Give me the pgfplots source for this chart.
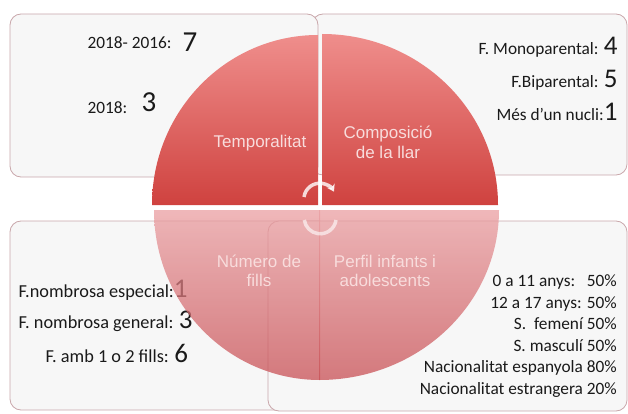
\documentclass[border=0pt]{standalone}
\usepackage{fontspec}
\setmainfont{Carlito}
\newfontfamily\labelfont{Liberation Sans}
\usepackage{pgfplots}
\pgfplotsset{compat=1.18}
\usetikzlibrary{arrows.meta,shadings}
\definecolor{boxfill}{HTML}{F7F7F7}
\definecolor{boxline}{HTML}{C9A7AB}
\definecolor{qtoptop}{HTML}{EF8E8C}
\definecolor{qtopbot}{HTML}{CF423F}
\definecolor{qbottop}{HTML}{EA9FA2}
\definecolor{qbotbot}{HTML}{C84F54}
\definecolor{qlabel}{HTML}{F8DCDC}
\definecolor{txt}{HTML}{1A1A1A}

\begin{document}
\begin{tikzpicture}
\begin{axis}[
  name=ax,
  anchor=south west, at={(0,0)},
  scale only axis,
  width=628pt, height=414pt,
  xmin=0, xmax=628, ymin=0, ymax=414,
  y dir=reverse,
  hide axis,
]
% boxes (pixel coordinates, y down)
\tikzset{box/.style={fill=boxfill, draw=boxline, line width=0.8pt, rounded corners=11pt},
  small/.style={font=\fontsize{17.3}{18}\selectfont, text=txt},
  smallb/.style={font=\fontsize{18.3}{19}\selectfont, text=txt}}
\draw[box] (axis cs:312,14) rectangle (axis cs:627,175);
\draw[box] (axis cs:10,14) rectangle (axis cs:318,177);
\draw[box] (axis cs:10,221) rectangle (axis cs:330,410);
\draw[box] (axis cs:268,221) rectangle (axis cs:627,411);

% text inside boxes
\node[anchor=west, small] at (axis cs:84,43) {2018- 2016:};
\node[anchor=west, font=\fontsize{29}{30}\selectfont, text=txt] at (axis cs:179,42) {7};
\node[anchor=west, small] at (axis cs:84,108) {2018:};
\node[anchor=west, font=\fontsize{29}{30}\selectfont, text=txt] at (axis cs:138,102) {3};

\node[anchor=east, small] at (axis cs:621,47) {F. Monoparental: {\fontsize{27}{28}\selectfont 4}};
\node[anchor=east, small] at (axis cs:621,80) {F.Biparental: {\fontsize{27}{28}\selectfont 5}};
\node[anchor=east, small] at (axis cs:621,112) {Més d’un nucli:{\fontsize{27}{28}\selectfont 1}};

\node[anchor=west, smallb] at (axis cs:15,290) {F.nombrosa especial:{\fontsize{27}{28}\selectfont 1}};
\node[anchor=west, smallb] at (axis cs:15,321) {F. nombrosa general: {\fontsize{27}{28}\selectfont 3}};
\node[anchor=west, smallb] at (axis cs:42,353) {F. amb 1 o 2 fills: {\fontsize{27}{28}\selectfont 6}};

\node[anchor=east, small, align=right, inner sep=0pt]
  at (axis cs:617,336) {0 a 11 anys:\ \ \ 50\%\\[3.6pt] 12 a 17 anys: 50\%\\[3.6pt] S.\ \ femení 50\%\\[3.6pt] S. masculí 50\%\\[3.6pt] Nacionalitat espanyola 80\%\\[3.6pt] Nacionalitat estrangera 20\%};

% top quadrants
\shade[top color=qtoptop, bottom color=qtopbot]
  (axis cs:318,205) -- (axis cs:152,205) arc[start angle=180, end angle=90, x radius=166pt, y radius=170pt] -- cycle;
\shade[top color=qtoptop, bottom color=qtopbot]
  (axis cs:322,205) -- (axis cs:322,34) arc[start angle=90, end angle=0, x radius=176pt, y radius=171pt] -- cycle;

% bottom quadrants (semi-transparent)
\shade[top color=qbottop, bottom color=qbotbot, fill opacity=0.75]
  (axis cs:320,210) -- (axis cs:154,210) arc[start angle=180, end angle=270, x radius=166pt, y radius=170pt] -- cycle;
\shade[top color=qbottop, bottom color=qbotbot, fill opacity=0.75]
  (axis cs:319,210) -- (axis cs:319,380) arc[start angle=270, end angle=360, x radius=180pt, y radius=170pt] -- cycle;

% centre arrows
\draw[white, opacity=0.8, line width=3.5pt, -{Stealth[length=7pt,width=9pt]}]
  (axis cs:304,197) arc[start angle=172, end angle=28, radius=16pt];
\draw[white, opacity=0.6, line width=3.5pt]
  (axis cs:336,220) arc[start angle=-8, end angle=-172, radius=16pt];

% quadrant labels
\node[font=\labelfont\fontsize{17}{19}\selectfont, text=qlabel] at (axis cs:260,143) {Temporalitat};
\node[font=\labelfont\fontsize{17}{20}\selectfont, text=qlabel, align=center] at (axis cs:388,142) {Composició\\de la llar};
\node[font=\labelfont\fontsize{17}{19}\selectfont, text=qlabel, align=center] at (axis cs:259,271) {Número de\\fills};
\node[font=\labelfont\fontsize{17}{19}\selectfont, text=qlabel, align=center] at (axis cs:385,271) {Perfil infants i\\adolescents};
\end{axis}
\pgfresetboundingbox
\path[use as bounding box] (ax.south west) rectangle (ax.north east);
\end{tikzpicture}
\end{document}
